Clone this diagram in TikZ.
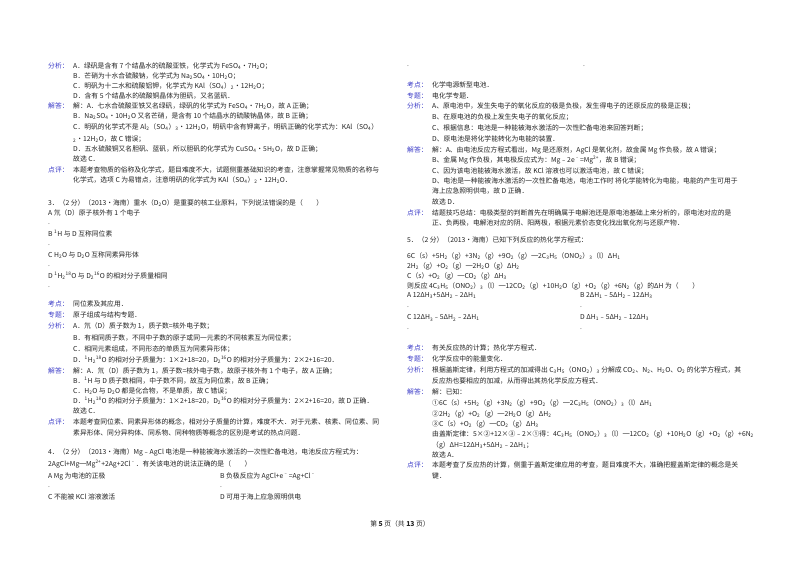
\documentclass[tikz,border=0pt]{standalone}
\usepackage{fontspec}
\setmainfont{Noto Sans CJK SC}
\definecolor{lab}{RGB}{60,60,200}
\definecolor{ink}{RGB}{35,35,35}
\newcounter{ln}
\newcommand\T[3]{\stepcounter{ln}\node[txt] (t\theln) at (#1,#2) {#3};}
\newcommand\Lb[3]{\stepcounter{ln}\node[txt,text=lab] (t\theln) at (#1,#2) {#3};}
\newcommand\dn[1]{\textsubscript{#1}}
\newcommand\up[1]{\textsuperscript{#1}}
\begin{document}
\begin{tikzpicture}[x=1pt,y=-1pt,txt/.style={anchor=west,inner sep=0pt,text=ink,font=\fontsize{6.8}{8}\selectfont}]
\fill[white] (0,0) rectangle (800,566);
\useasboundingbox (0,0) rectangle (800,566);
% ---------- left column
\def\a{48}\def\b{73}
\Lb{\a}{66}{分析：}\T{\b}{66}{A．绿矾是含有 7 个结晶水的硫酸亚铁，化学式为 FeSO\dn4•7H\dn2O；}
\T{\b}{76}{B．芒硝为十水合硫酸钠，化学式为 Na\dn2SO\dn4•10H\dn2O；}
\T{\b}{86}{C．明矾为十二水和硫酸铝钾，化学式为 KAl（SO\dn4）\dn2•12H\dn2O；}
\T{\b}{96}{D．含有 5 个结晶水的硫酸铜晶体为胆矾，又名蓝矾．}
\Lb{\a}{106}{解答：}\T{\b}{106}{解：A．七水合硫酸亚铁又名绿矾，绿矾的化学式为 FeSO\dn4•7H\dn2O，故 A 正确；}
\T{\b}{116}{B．Na\dn2SO\dn4•10H\dn2O 又名芒硝，是含有 10 个结晶水的硫酸钠晶体，故 B 正确；}
\T{\b}{127}{C．明矾的化学式不是 Al\dn2（SO\dn4）\dn3•12H\dn2O，明矾中含有钾离子，明矾正确的化学式为：KAl（SO\dn4）}
\T{\b}{139}{\dn2•12H\dn2O，故 C 错误；}
\T{\b}{149}{D．五水硫酸铜又名胆矾、蓝矾，所以胆矾的化学式为 CuSO\dn4•5H\dn2O，故 D 正确；}
\T{\b}{159}{故选 C．}
\Lb{\a}{170}{点评：}\T{\b}{170}{本题考查物质的俗称及化学式，题目难度不大，试题侧重基础知识的考查，注意掌握常见物质的名称与}
\T{\b}{180}{化学式，选项 C 为易错点，注意明矾的化学式为 KAl（SO\dn4）\dn2•12H\dn2O．}
\T{\a}{203}{3．（2 分）（2013•海南）重水（D\dn2O）是重要的核工业原料，下列说法错误的是（　　）}
\T{\a}{213}{A 氘（D）原子核外有 1 个电子}
\T{\a}{224}{.}
\T{\a}{234}{B \up1H 与 D 互称同位素}
\T{\a}{245}{.}
\T{\a}{255}{C H\dn2O 与 D\dn2O 互称同素异形体}
\T{\a}{266}{.}
\T{\a}{276}{D \up1H\dn2\up{18}O 与 D\dn2\up{16}O 的相对分子质量相同}
\T{\a}{287}{.}
\Lb{\a}{304}{考点：}\T{\b}{304}{同位素及其应用．}
\Lb{\a}{315}{专题：}\T{\b}{315}{原子组成与结构专题．}
\Lb{\a}{326}{分析：}\T{\b}{326}{A．氘（D）质子数为 1，质子数=核外电子数；}
\T{\b}{338}{B．有相同质子数，不同中子数的原子或同一元素的不同核素互为同位素；}
\T{\b}{349}{C．相同元素组成，不同形态的单质互为同素异形体；}
\T{\b}{360}{D．\up1H\dn2\up{18}O 的相对分子质量为：1×2+18=20，D\dn2\up{16}O 的相对分子质量为：2×2+16=20．}
\Lb{\a}{371}{解答：}\T{\b}{371}{解：A．氘（D）质子数为 1，质子数=核外电子数，故原子核外有 1 个电子，故 A 正确；}
\T{\b}{381}{B．\up1H 与 D 质子数相同，中子数不同，故互为同位素，故 B 正确；}
\T{\b}{391}{C．H\dn2O 与 D\dn2O 都是化合物，不是单质，故 C 错误；}
\T{\b}{401}{D．\up1H\dn2\up{18}O 的相对分子质量为：1×2+18=20，D\dn2\up{16}O 的相对分子质量为：2×2+16=20，故 D 正确．}
\T{\b}{411}{故选 C．}
\Lb{\a}{422}{点评：}\T{\b}{422}{本题考查同位素、同素异形体的概念，相对分子质量的计算，难度不大．对于元素、核素、同位素、同}
\T{\b}{433}{素异形体、同分异构体、同系物、同种物质等概念的区别是考试的热点问题．}
\T{\a}{452}{4．（2 分）（2013•海南）Mg﹣AgCl 电池是一种能被海水激活的一次性贮备电池，电池反应方程式为：}
\T{\a}{464}{2AgCl+Mg═Mg\up{2+}+2Ag+2Cl\up﹣．有关该电池的说法正确的是（　　）}
\T{\a}{476}{A Mg 为电池的正极}\T{220}{476}{B 负极反应为 AgCl+e\up﹣=Ag+Cl\up﹣}
\T{\a}{487}{.}\T{220}{487}{.}
\T{\a}{497}{C 不能被 KCl 溶液激活}\T{220}{497}{D 可用于海上应急照明供电}
% ---------- right column
\def\a{407}\def\b{432}
\T{\a}{66}{.}\T{583}{66}{.}
\Lb{\a}{85}{考点：}\T{\b}{85}{化学电源新型电池．}
\Lb{\a}{96}{专题：}\T{\b}{96}{电化学专题．}
\Lb{\a}{106}{分析：}\T{\b}{106}{A、原电池中，发生失电子的氧化反应的极是负极，发生得电子的还原反应的极是正极；}
\T{\b}{117}{B、在原电池的负极上发生失电子的氧化反应；}
\T{\b}{128}{C、根据信息：电池是一种能被海水激活的一次性贮备电池来回答判断；}
\T{\b}{139}{D、原电池是将化学能转化为电能的装置．}
\Lb{\a}{150}{解答：}\T{\b}{150}{解：A、由电池反应方程式看出，Mg 是还原剂，AgCl 是氧化剂，故金属 Mg 作负极，故 A 错误；}
\T{\b}{160}{B、金属 Mg 作负极，其电极反应式为：Mg﹣2e\up﹣=Mg\up{2+}，故 B 错误；}
\T{\b}{171}{C、因为该电池能被海水激活，故 KCl 溶液也可以激活电池，故 C 错误；}
\T{\b}{181}{D、电池是一种能被海水激活的一次性贮备电池，电池工作时 将化学能转化为电能，电能的产生可用于}
\T{\b}{191}{海上应急照明供电，故 D 正确．}
\T{\b}{202}{故选 D．}
\Lb{\a}{213}{点评：}\T{\b}{213}{结题技巧总结：电极类型的判断首先在明确属于电解池还是原电池基础上来分析的，原电池对应的是}
\T{\b}{223}{正、负两极，电解池对应的阴、阳两极，根据元素价态变化找出氧化剂与还原产物．}
\T{\a}{240}{5．（2 分）（2013•海南）已知下列反应的热化学方程式：}
\T{\a}{256}{6C（s）+5H\dn2（g）+3N\dn2（g）+9O\dn2（g）═2C\dn3H\dn5（ONO\dn2）\dn3（l）ΔH\dn1}
\T{\a}{266}{2H\dn2（g）+O\dn2（g）═2H\dn2O（g）ΔH\dn2}
\T{\a}{276}{C（s）+O\dn2（g）═CO\dn2（g）ΔH\dn3}
\T{\a}{286}{则反应 4C\dn3H\dn5（ONO\dn2）\dn3（l）═12CO\dn2（g）+10H\dn2O（g）+O\dn2（g）+6N\dn2（g）的ΔH 为（　　）}
\T{\a}{296}{A 12ΔH\dn3+5ΔH\dn2﹣2ΔH\dn1}\T{580}{296}{B 2ΔH\dn1﹣5ΔH\dn2﹣12ΔH\dn3}
\T{\a}{307}{.}\T{580}{307}{.}
\T{\a}{318}{C 12ΔH\dn3﹣5ΔH\dn2﹣2ΔH\dn1}\T{580}{318}{D ΔH\dn1﹣5ΔH\dn2﹣12ΔH\dn3}
\T{\a}{329}{.}\T{580}{329}{.}
\Lb{\a}{348}{考点：}\T{\b}{348}{有关反应热的计算；热化学方程式．}
\Lb{\a}{359}{专题：}\T{\b}{359}{化学反应中的能量变化．}
\Lb{\a}{370}{分析：}\T{\b}{370}{根据盖斯定律，利用方程式的加减得出 C\dn3H\dn5（ONO\dn2）\dn3 分解成 CO\dn2、N\dn2、H\dn2O、O\dn2 的化学方程式，其}
\T{\b}{381}{反应热也要相应的加减，从而得出其热化学反应方程式．}
\Lb{\a}{392}{解答：}\T{\b}{392}{解：已知：}
\T{\b}{403}{①6C（s）+5H\dn2（g）+3N\dn2（g）+9O\dn2（g）═2C\dn3H\dn5（ONO\dn2）\dn3（l）ΔH\dn1}
\T{\b}{414}{②2H\dn2（g）+O\dn2（g）═2H\dn2O（g）ΔH\dn2}
\T{\b}{424}{③C（s）+O\dn2（g）═CO\dn2（g）ΔH\dn3}
\T{\b}{434}{由盖斯定律：5×②+12×③﹣2×①得：4C\dn3H\dn5（ONO\dn2）\dn3（l）═12CO\dn2（g）+10H\dn2O（g）+O\dn2（g）+6N\dn2}
\T{\b}{445}{（g）ΔH=12ΔH\dn3+5ΔH\dn2﹣2ΔH\dn1；}
\T{\b}{455}{故选 A．}
\Lb{\a}{465}{点评：}\T{\b}{465}{本题考查了反应热的计算，侧重于盖斯定律应用的考查，题目难度不大，准确把握盖斯定律的概念是关}
\T{\b}{476}{键．}
% footer
\stepcounter{ln}\node[txt,anchor=center] (foot) at (400,524) {第 \textbf{5} 页（共 \textbf{13} 页）};
\end{tikzpicture}
\end{document}
